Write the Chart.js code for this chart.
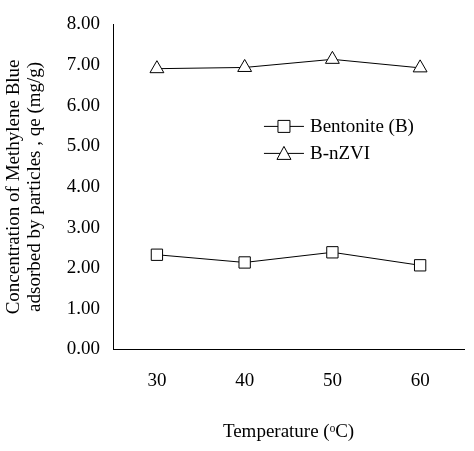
<!DOCTYPE html>
<html><head><meta charset="utf-8">
<script src="https://cdn.jsdelivr.net/npm/chart.js@4"></script>
<style>html,body{margin:0;background:#fff}#wrap{width:474px;height:451px}</style>
</head><body><div id="wrap"><canvas id="c"></canvas></div>
<script>
var temps = ['30', '40', '50', '60'];
var bentonite = [2.33, 2.14, 2.39, 2.07];
var bnzvi = [6.91, 6.94, 7.14, 6.93];
var yTicks = [0, 1, 2, 3, 4, 5, 6, 7, 8];

var font = 'Liberation Serif';

// legend drawn inside plot area
var inLegend = {
    id: 'inLegend',
    afterDraw: function(chart) {
        var ctx = chart.ctx, a = chart.chartArea;
        var x = a.left + (a.right - a.left) * 0.43, y = a.top + 102;
        chart.data.datasets.forEach(function(ds, i) {
            var yy = y + i * 27;
            ctx.save();
            ctx.strokeStyle = '#000'; ctx.lineWidth = 1;
            ctx.beginPath(); ctx.moveTo(x, yy); ctx.lineTo(x + 40, yy); ctx.stroke();
            ctx.fillStyle = '#fff';
            ctx.beginPath();
            if (ds.pointStyle == 'rect') ctx.rect(x + 14, yy - 6, 12, 12);
            else { ctx.moveTo(x + 20, yy - 7); ctx.lineTo(x + 27, yy + 6); ctx.lineTo(x + 13, yy + 6); ctx.closePath(); }
            ctx.fill(); ctx.stroke();
            ctx.fillStyle = '#000'; ctx.font = '19px "' + font + '"';
            ctx.textBaseline = 'middle';
            ctx.fillText(ds.label, x + 46, yy + 1);
            ctx.restore();
        });
    }
};

new Chart(document.getElementById('c'), {
    type: 'line',
    data: {
        labels: temps,
        datasets: [{
            label: 'Bentonite (B)',
            data: bentonite,
            borderColor: '#000', borderWidth: 1,
            pointStyle: 'rect', pointRadius: 8, pointBackgroundColor: '#fff', pointBorderColor: '#000'
        }, {
            label: 'B-nZVI',
            data: bnzvi,
            borderColor: '#000', borderWidth: 1,
            pointStyle: 'triangle', pointRadius: 8, pointBackgroundColor: '#fff', pointBorderColor: '#000'
        }]
    },
    options: {
        responsive: true, maintainAspectRatio: false, animation: false,
        layout: { padding: { top: 2, right: 10, left: 0, bottom: 4 } },
        plugins: { legend: { display: false }, tooltip: { enabled: false } },
        scales: {
            x: {
                offset: true,
                grid: { display: false, drawTicks: false },
                border: { color: '#000' },
                ticks: { color: '#000', font: { family: font, size: 19 }, padding: 20 },
                title: { display: true, text: 'Temperature (ᵒC)', color: '#000', font: { family: font, size: 19 }, padding: { top: 8 } }
            },
            y: {
                min: 0, max: 8,
                afterBuildTicks: function(s) { s.ticks = yTicks.map(function(v) { return { value: v }; }); },
                grid: { display: false, drawTicks: false },
                border: { color: '#000' },
                ticks: { color: '#000', font: { family: font, size: 19 }, padding: 13,
                    callback: function(v) { return v.toFixed(2); } },
                title: { display: true, text: ['Concentration of Methylene Blue', 'adsorbed by particles , qe (mg/g)'],
                    color: '#000', font: { family: font, size: 19, lineHeight: 1.1 }, padding: { bottom: 8 } }
            }
        }
    },
    plugins: [inLegend]
});
</script></body></html>
